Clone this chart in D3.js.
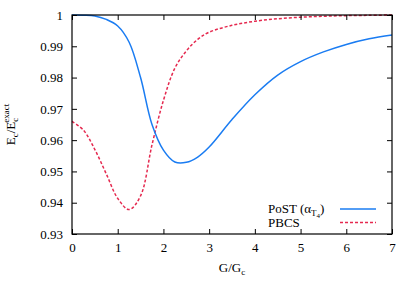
<!DOCTYPE html>
<html>
<head>
<meta charset="utf-8">
<script src="https://cdn.jsdelivr.net/npm/d3@7"></script>
<style>
  body { margin: 0; background: #fff; }
</style>
</head>
<body>
<div id="chart"></div>
<script>
// values
var gValues = [0, 0.25, 0.5, 0.75, 1, 1.25, 1.5, 1.75, 2, 2.25, 2.5, 2.75, 3, 3.5, 4, 4.5, 5, 5.5, 6, 6.5, 7];
var postValues = [1.0, 0.99995, 0.9997, 0.9986, 0.9965, 0.9913, 0.9800, 0.9650, 0.9568, 0.9530, 0.9529,
                  0.9546, 0.9578, 0.9666, 0.9745, 0.9808, 0.9851, 0.9882, 0.9906, 0.9924, 0.9936];
var pbcsValues = [0.9660, 0.9632, 0.9570, 0.9492, 0.9414, 0.9378, 0.9422, 0.9585, 0.9727, 0.9830, 0.9885,
                  0.9922, 0.9945, 0.9967, 0.9980, 0.9988, 0.9993, 0.9996, 0.9998, 0.9999, 1.0];
var xTicks = [0, 1, 2, 3, 4, 5, 6, 7];
var yTicks = [0.93, 0.94, 0.95, 0.96, 0.97, 0.98, 0.99, 1];

var margin = {top: 15, right: 23, bottom: 56, left: 72}
  , width = 415 - margin.left - margin.right
  , height = 290 - margin.top - margin.bottom;

var blue = '#1a7cf2', red = '#e5294f';
var serif = "'Liberation Serif', 'DejaVu Serif', 'Times New Roman', serif";

var xScale = d3.scaleLinear().domain([0, 7]).range([0, width]);
var yScale = d3.scaleLinear().domain([0.93, 1]).range([height, 0]);

var svg = d3.select('#chart').append('svg')
    .attr('width', 415)
    .attr('height', 290)
    .style('font-family', serif)
    .style('font-size', '13px')
  .append('g')
    .attr('transform', 'translate(' + margin.left + ',' + margin.top + ')');

// curves
var post = gValues.map(function(g, i) { return {g: g, v: postValues[i]}; });
var pbcs = gValues.map(function(g, i) { return {g: g, v: pbcsValues[i]}; });

var line = d3.line()
    .x(function(d) { return xScale(d.g); })
    .y(function(d) { return yScale(d.v); })
    .curve(d3.curveCatmullRom.alpha(0.5));

svg.append('path')
    .datum(pbcs)
    .attr('fill', 'none')
    .attr('stroke', red)
    .attr('stroke-width', 1.5)
    .attr('stroke-dasharray', '3,2')
    .attr('d', line);

svg.append('path')
    .datum(post)
    .attr('fill', 'none')
    .attr('stroke', blue)
    .attr('stroke-width', 1.5)
    .attr('d', line);

// axes, ticks pointing inward on all four sides
var tl = 5;
var bottomAxis = svg.append('g')
    .attr('transform', 'translate(0,' + height + ')')
    .call(d3.axisBottom(xScale).tickValues(xTicks).tickSizeInner(-tl).tickSizeOuter(0).tickPadding(9)
      .tickFormat(d3.format('d')));
var topAxis = svg.append('g')
    .call(d3.axisTop(xScale).tickValues(xTicks).tickSizeInner(-tl).tickSizeOuter(0).tickFormat(''));
var leftAxis = svg.append('g')
    .call(d3.axisLeft(yScale).tickValues(yTicks).tickSizeInner(-tl).tickSizeOuter(0).tickPadding(9)
      .tickFormat(function(d) { return d === 1 ? '1' : d3.format('.2f')(d); }));
var rightAxis = svg.append('g')
    .attr('transform', 'translate(' + width + ',0)')
    .call(d3.axisRight(yScale).tickValues(yTicks).tickSizeInner(-tl).tickSizeOuter(0).tickFormat(''));

[bottomAxis, topAxis, leftAxis, rightAxis].forEach(function(a) {
  a.attr('font-family', null).attr('font-size', null);
  a.select('.domain').remove();
  a.selectAll('line').attr('stroke', '#000');
  a.selectAll('text').style('font-family', serif).style('font-size', '13px');
});

svg.append('rect')
    .attr('width', width)
    .attr('height', height)
    .attr('fill', 'none')
    .attr('stroke', '#000')
    .attr('stroke-width', 1.2);

// axis labels
var xl = svg.append('text')
    .attr('x', width / 2)
    .attr('y', height + 38)
    .attr('text-anchor', 'middle');
xl.append('tspan').text('G/G');
xl.append('tspan').attr('font-size', '9px').attr('dy', 3).text('c');

var yl = svg.append('text')
    .attr('transform', 'translate(' + (-57) + ',' + (height / 2) + ') rotate(-90)')
    .attr('text-anchor', 'middle');
yl.append('tspan').text('E');
yl.append('tspan').attr('font-size', '9px').attr('dy', 3).text('c');
yl.append('tspan').attr('dy', -3).text('/E');
yl.append('tspan').attr('font-size', '9px').attr('dy', 3).text('c');
yl.append('tspan').attr('font-size', '9px').attr('dy', -9).attr('dx', -5).text('exact');

// legend
var legend = svg.append('g').attr('transform', 'translate(196,194)');
var t1 = legend.append('text').attr('x', 0).attr('y', 4);
t1.append('tspan').text('PoST (α');
t1.append('tspan').attr('font-size', '9px').attr('dy', 3).text('T');
t1.append('tspan').attr('font-size', '7px').attr('dy', 2).text('4');
t1.append('tspan').attr('dy', -5).text(')');
legend.append('line')
    .attr('x1', 72).attr('x2', 108).attr('y1', 0).attr('y2', 0)
    .attr('stroke', blue).attr('stroke-width', 1.5);

legend.append('text').attr('x', 0).attr('y', 18).text('PBCS');
legend.append('line')
    .attr('x1', 72).attr('x2', 108).attr('y1', 13.5).attr('y2', 13.5)
    .attr('stroke', red).attr('stroke-width', 1.5).attr('stroke-dasharray', '3,2');
</script>
</body>
</html>
